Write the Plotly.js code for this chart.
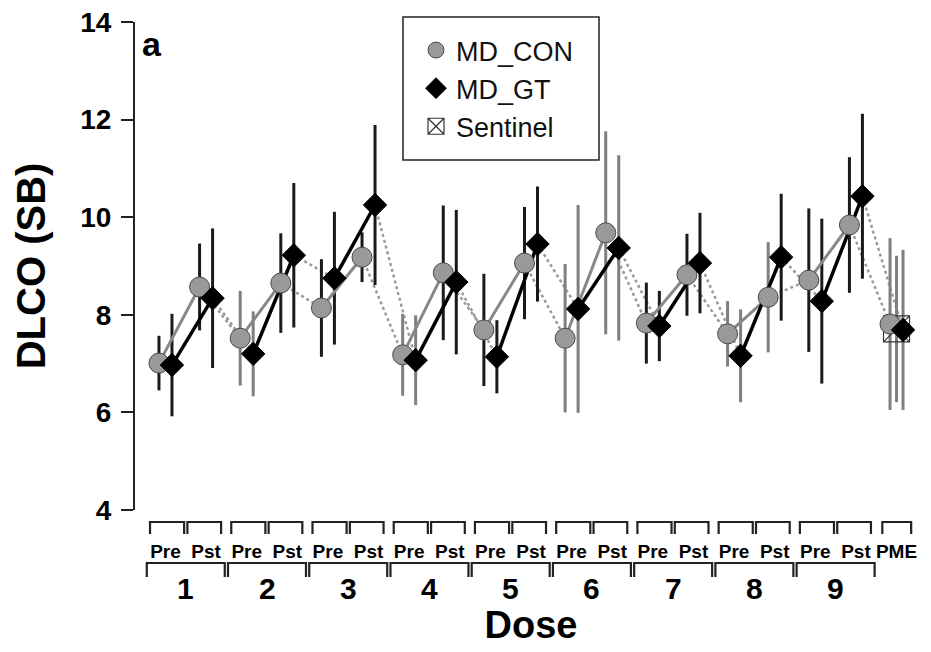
<!DOCTYPE html>
<html><head><meta charset="utf-8">
<script src="https://cdn.plot.ly/plotly-3.0.1.min.js"></script>
<style>body{margin:0;background:#fff}#chart{width:931px;height:652px}</style>
</head><body><div id="chart"></div>
<script>
// ---- data ----
const categories = ['Pre','Pst','Pre','Pst','Pre','Pst','Pre','Pst','Pre','Pst','Pre','Pst','Pre','Pst','Pre','Pst','Pre','Pst','PME'];
const doses = ['1','2','3','4','5','6','7','8','9'];
const conMean = [7.01, 8.57, 7.52, 8.65, 8.14, 9.18, 7.18, 8.86, 7.69, 9.06, 7.52, 9.68, 7.83, 8.82, 7.61, 8.36, 8.71, 9.84, 7.81];
const conErr  = [0.56, 0.89, 0.97, 1.02, 1.00, 0.51, 0.84, 1.38, 1.15, 1.15, 1.52, 2.08, 0.83, 0.84, 0.67, 1.13, 1.47, 1.39, 1.76];
const conDark = [1,1,0,1,1,1,0,1,1,1,0,0,1,1,0,0,1,1,0];
const gtMean  = [6.97, 8.34, 7.20, 9.22, 8.75, 10.25, 7.07, 8.67, 7.14, 9.45, 8.12, 9.37, 7.77, 9.06, 7.16, 9.18, 8.28, 10.43, 7.69];
const gtErr   = [1.05, 1.43, 0.87, 1.48, 1.36, 1.64, 0.92, 1.48, 0.75, 1.18, 2.13, 1.90, 0.72, 1.03, 0.95, 1.30, 1.69, 1.69, 1.64];
const gtDark  = [1,1,0,1,1,1,0,1,1,1,0,0,1,1,0,1,1,1,0];
const sentinelCat = ['PME'];
const sentinelMean = [7.71];
const sentinelErr = [1.50];

// ---- layout constants ----
const L = 135, R = 4, T = 22, B = 142;
const W = 931 - L - R, H = 652 - T - B;
const xRange = [-0.75, 18.75];
const FONT = 'Liberation Sans, Arial, sans-serif';
const DARK = '#1a1a1a', GRAY = '#7f7f7f';
const OFF = 0.16;
const py = p => 1 - (p - T) / H;   // pixel row -> paper y
const px = p => (p - L) / W;       // pixel col -> paper x

const pos = categories.map((c, i) => i);
const conX = pos.map(p => p - OFF);
const gtX = pos.map(p => p + OFF);
const sentX = sentinelCat.map(c => categories.indexOf(c));

function pairSegs(xs, ys, pairs) {
  const X = [], Y = [];
  pairs.forEach(([a, b]) => { X.push(xs[a], xs[b], null); Y.push(ys[a], ys[b], null); });
  return {x: X, y: Y};
}
const solidPairs = doses.map((d, i) => [2 * i, 2 * i + 1]);
const dotPairs = doses.map((d, i) => [2 * i + 1, 2 * i + 2]);

function errSegs(xs, m, e, flags, want) {
  const X = [], Y = [];
  xs.forEach((x, i) => {
    if (flags === null || flags[i] === want) { X.push(x, x, null); Y.push(m[i] - e[i], m[i] + e[i], null); }
  });
  return {x: X, y: Y};
}

const traces = [];
const lineTrace = (s, color, width, dash) => Object.assign({type: 'scatter', mode: 'lines', line: {color, width, dash}, showlegend: false, hoverinfo: 'skip', connectgaps: false}, s);

traces.push(lineTrace(pairSegs(conX, conMean, dotPairs), '#9a9a9a', 2.5, 'dot'));
traces.push(lineTrace(pairSegs(gtX, gtMean, dotPairs), '#9a9a9a', 2.5, 'dot'));
traces.push(lineTrace(errSegs(conX, conMean, conErr, conDark, 0), GRAY, 3, 'solid'));
traces.push(lineTrace(errSegs(gtX, gtMean, gtErr, gtDark, 0), GRAY, 3, 'solid'));
traces.push(lineTrace(errSegs(sentX, sentinelMean, sentinelErr, null, 0), GRAY, 3, 'solid'));
traces.push(lineTrace(errSegs(conX, conMean, conErr, conDark, 1), DARK, 3, 'solid'));
traces.push(lineTrace(errSegs(gtX, gtMean, gtErr, gtDark, 1), DARK, 3, 'solid'));
traces.push(lineTrace(pairSegs(conX, conMean, solidPairs), '#888888', 3, 'solid'));
traces.push(lineTrace(pairSegs(gtX, gtMean, solidPairs), '#000000', 3.5, 'solid'));

traces.push({type: 'scatter', mode: 'markers', name: 'Sentinel', x: sentX, y: sentinelMean, legendrank: 3, legendgroup: 'c',
  marker: {symbol: 'square-x-open', size: 26, color: '#333333', line: {width: 1.2}}});
traces.push({type: 'scatter', mode: 'markers', name: 'MD_CON', x: conX, y: conMean, legendrank: 1, legendgroup: 'a',
  marker: {symbol: 'circle', size: 20, color: '#999999', line: {color: '#4a4a4a', width: 1}}});
traces.push({type: 'scatter', mode: 'markers', name: 'MD_GT', x: gtX, y: gtMean, legendrank: 2, legendgroup: 'b',
  marker: {symbol: 'diamond', size: 18, color: '#000000', line: {color: '#000000', width: 1}}});

// ---- brackets under the axis ----
const shapes = [];
const brk = (x0, x1, yTop, yBot) => ({type: 'path', xref: 'x', yref: 'paper',
  path: `M${x0},${py(yBot)} L${x0},${py(yTop)} L${x1},${py(yTop)} L${x1},${py(yBot)}`,
  line: {color: '#222222', width: 2.2}});
categories.forEach((c, i) => {
  if (c === 'Pre') shapes.push(brk(i - 0.38, i + 0.46, 522, 534));
  else if (c === 'Pst') shapes.push(brk(i - 0.46, i + 0.37, 522, 534));
  else shapes.push(brk(i - 0.35, i + 0.36, 522, 534));
});
doses.forEach((d, i) => shapes.push(brk(2 * i - 0.46, 2 * i + 1.46, 563, 577)));
// legend frame
shapes.push({type: 'rect', xref: 'paper', yref: 'paper', x0: px(403), x1: px(599), y0: py(160), y1: py(17),
  line: {color: '#222222', width: 1.5}});

const annotations = doses.map((d, i) => ({xref: 'x', yref: 'paper', x: 2 * i + 0.5, y: py(588), text: d,
  showarrow: false, xanchor: 'center', yanchor: 'middle', font: {family: FONT, size: 30, color: '#000', weight: 'bold'}}));
annotations.push({xref: 'paper', yref: 'paper', x: px(140), y: py(44), text: 'a', showarrow: false,
  xanchor: 'left', yanchor: 'middle', font: {family: FONT, size: 34, color: '#000', weight: 'bold'}});

const layout = {
  width: 931, height: 652,
  margin: {l: L, r: R, t: T, b: B, pad: 0},
  paper_bgcolor: '#fff', plot_bgcolor: '#fff',
  font: {family: FONT, color: '#000'},
  showlegend: true,
  legend: {x: px(416), y: py(26), xanchor: 'left', yanchor: 'top', bgcolor: 'rgba(0,0,0,0)', borderwidth: 0,
    font: {family: FONT, size: 27, color: '#111'}, tracegroupgap: 0, itemclick: false},
  xaxis: {range: xRange, showgrid: false, zeroline: false, showline: false, ticks: '',
    tickmode: 'array', tickvals: pos, ticktext: categories, ticklabelstandoff: 28,
    tickfont: {family: FONT, size: 19, weight: 'bold', color: '#000'},
    title: {text: 'Dose', standoff: 50, font: {family: FONT, size: 38, weight: 'bold', color: '#000'}}},
  yaxis: {range: [4, 14], showgrid: false, zeroline: false, showline: true, linecolor: '#222', linewidth: 2,
    ticks: 'outside', ticklen: 12, tickwidth: 2, tickcolor: '#222', tickvals: [4, 6, 8, 10, 12, 14],
    ticklabelstandoff: 4,
    tickfont: {family: FONT, size: 28, weight: 'bold', color: '#000'},
    title: {text: 'DLCO (SB)', standoff: 22, font: {family: FONT, size: 40, weight: 'bold', color: '#000'}}},
  shapes, annotations
};
Plotly.newPlot('chart', traces, layout, {displayModeBar: false, staticPlot: true});
</script></body></html>
